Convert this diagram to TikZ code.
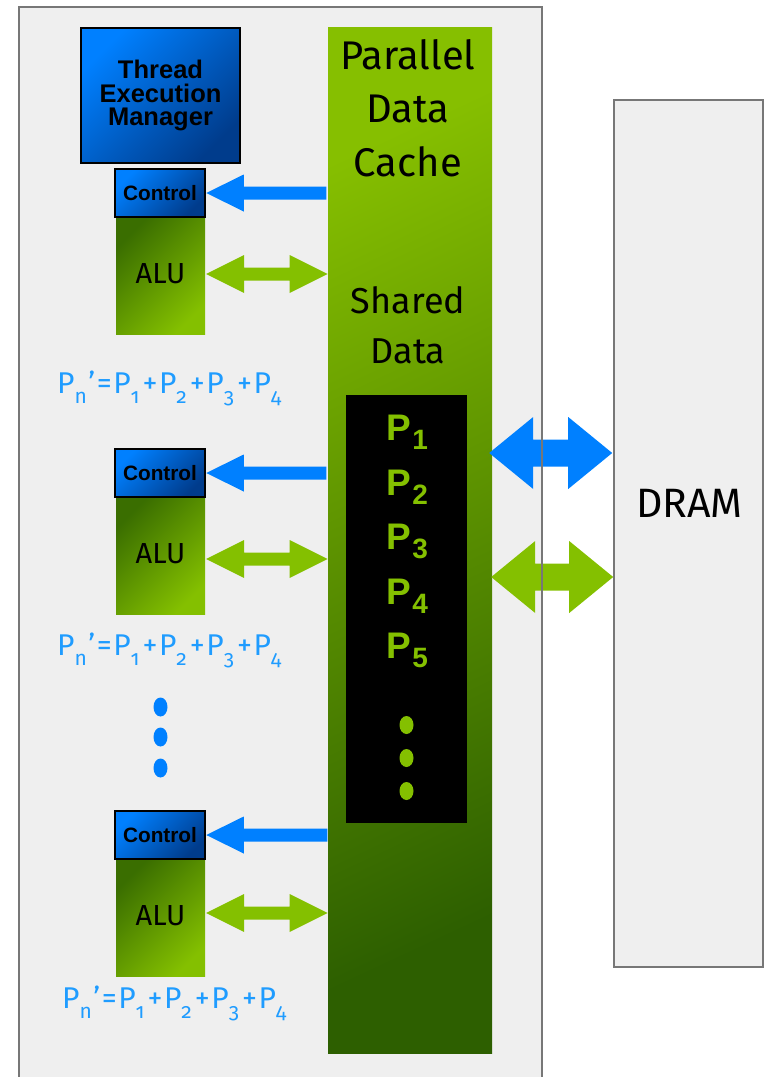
\documentclass[tikz,border=0pt]{standalone}
\usepackage{fontspec}
\setmainfont{Fira Sans}
\newfontfamily\boldsans{Liberation Sans}
\newfontfamily\sumfont{Fira Sans}[Numbers=OldStyle]
\usetikzlibrary{calc}

\definecolor{chipgray}{HTML}{EFEFEF}
\definecolor{edgegray}{HTML}{777777}
\definecolor{nvblue}{HTML}{0080FF}
\definecolor{nvbluedark}{HTML}{003C8C}
\definecolor{nvgreen}{HTML}{84C000}
\definecolor{cachetop}{HTML}{86BF00}
\definecolor{cachebottom}{HTML}{2D5F00}
\definecolor{aludark}{HTML}{3A6E00}
\definecolor{alulight}{HTML}{84C000}
\definecolor{sumblue}{HTML}{1F9CFF}

% left-pointing block arrow: style, tip, head length, head half height, shaft half height, total length
\newcommand{\singlehead}[6]{%
  \fill[#1] #2 -- ++(#3,-#4) -- ++(0,#4-#5) -- ++(#6-#3,0) -- ++(0,2*#5)
    -- ++(#3-#6,0) -- ++(0,#4-#5) -- cycle;}
% two-way block arrow, same arguments, starting at the left tip
\newcommand{\doublehead}[6]{%
  \fill[#1] #2 -- ++(#3,-#4) -- ++(0,#4-#5) -- ++(#6-2*#3,0) -- ++(0,#5-#4)
    -- ++(#3,#4) -- ++(-#3,#4) -- ++(0,#5-#4) -- ++(2*#3-#6,0) -- ++(0,#4-#5) -- cycle;}
% lowered index in the partial-sum formulas
\newcommand{\lowidx}[1]{\raisebox{-10pt}{\fontsize{21}{21}\selectfont #1}\kern1.5pt}
\newcommand{\sumop}[1]{\kern1.5pt#1\kern1.5pt}
\newcommand{\partialsum}{P\lowidx{n}’\sumop{=}P\lowidx{1}\sumop{+}P\lowidx{2}\sumop{+}P\lowidx{3}\sumop{+}P\lowidx{4}}
% data element label inside the shared data block
\newcommand{\pidx}[1]{{\fontsize{37}{37}\selectfont P}\kern1.5pt\raisebox{-9pt}{\fontsize{28}{28}\selectfont #1}}

\tikzset{
  unitbox/.style={draw=black, line width=2.5pt, top color=nvblue, bottom color=nvbluedark,
    shading angle=45, inner sep=0pt, align=center},
  ctlbox/.style={unitbox, minimum width=90pt, minimum height=48pt,
    font=\boldsans\bfseries\fontsize{20.8}{20.8}\selectfont},
  alubox/.style={top color=aludark, bottom color=alulight, shading angle=45,
    minimum width=89pt, minimum height=117pt, inner sep=0pt, text depth=5pt,
    font=\fontsize{29}{29}\selectfont},
  cachetext/.style={anchor=base, inner sep=0pt, font=\fontsize{40}{40}\selectfont},
  sharedtext/.style={anchor=base, inner sep=0pt, font=\fontsize{36}{36}\selectfont},
  sumtext/.style={anchor=base west, inner sep=0pt, text=sumblue,
    font=\sumfont\fontsize{30}{30}\selectfont},
  ptext/.style={anchor=base, inner sep=0pt, text=nvgreen, font=\boldsans\bfseries},
  bluearrow/.style={fill=nvblue},
  greenarrow/.style={fill=nvgreen},
  panel/.style={fill=chipgray},
  panelrim/.style={draw=edgegray, line width=2.5pt},
}

\begin{document}
\begin{tikzpicture}[x=1pt, y=-1pt]
\useasboundingbox (0,0) rectangle (767,1077);

% chip outline and DRAM module backgrounds
\node[panel, minimum width=523pt, minimum height=1085pt, inner sep=0pt] (chip) at (280.5,549.5) {};
\node[panel, minimum width=149pt, minimum height=867pt, inner sep=0pt] (dram) at (688.5,533.5) {};
\node[cachetext, font=\fontsize{41}{41}\selectfont] (dramlabel) at (689.5,517) {DRAM};

% parallel data cache with the shared data block
\node[top color=cachetop, bottom color=cachebottom, shading angle=25,
      minimum width=164pt, minimum height=1026pt, inner sep=0pt] (cache) at (410,540) {};
\node[cachetext] (title1) at (408,69) {Parallel};
\node[cachetext] (title2) at (408,122) {Data};
\node[cachetext] (title3) at (408,176) {Cache};
\node[sharedtext] (shared1) at (408,313) {Shared};
\node[sharedtext] (shared2) at (408,363) {Data};
\node[fill=black, minimum width=121pt, minimum height=428pt, inner sep=0pt] (pbox) at (406.5,609) {};
\node[ptext] (p1) at (407,440) {\pidx{1}};
\node[ptext] (p2) at (407,495) {\pidx{2}};
\node[ptext] (p3) at (407,549) {\pidx{3}};
\node[ptext] (p4) at (407,604) {\pidx{4}};
\node[ptext] (p5) at (407,658) {\pidx{5}};
\foreach \yy in {725,758,791}
  \fill[nvgreen] (406.5,\yy) ellipse [x radius=7, y radius=9];

% thread execution manager
\node[unitbox, minimum width=159pt, minimum height=135pt,
      font=\boldsans\bfseries\fontsize{25.5}{23.5}\selectfont] (tem) at (160.5,95.5)
      {Thread\\Execution\\Manager};

% thread processors: ALU with its control unit on top
\node[alubox] (alu1) at (160.5,276) {ALU};
\node[alubox] (alu2) at (160.5,556) {ALU};
\node[alubox] (alu3) at (160.5,918) {ALU};
\node[ctlbox] (ctl1) at (160,193) {Control};
\node[ctlbox] (ctl2) at (160,473) {Control};
\node[ctlbox] (ctl3) at (160,835) {Control};

% partial sums
\node[sumtext] (sum1) at (57,393) {\partialsum};
\node[sumtext] (sum2) at (57,655) {\partialsum};
\node[sumtext] (sum3) at (62,1008) {\partialsum};
\foreach \yy in {707,737,768}
  \fill[nvblue] (160.5,\yy) ellipse [x radius=7, y radius=9.5];

% cache -> control
\singlehead{bluearrow}{(ctl1.east)}{37.5}{18.5}{6.5}{120}
\singlehead{bluearrow}{(ctl2.east)}{37.5}{18.5}{6.5}{120}
\singlehead{bluearrow}{(ctl3.east)}{37.5}{18.5}{6.5}{121}
% ALU <-> cache
\doublehead{greenarrow}{([xshift=1pt,yshift=2pt]alu1.east)}{38}{19}{6.5}{121.5}
\doublehead{greenarrow}{([xshift=1pt,yshift=-3pt]alu2.east)}{38}{19}{6.5}{121.5}
\doublehead{greenarrow}{([xshift=1pt,yshift=5pt]alu3.east)}{38}{19}{6.5}{121.5}
% cache <-> DRAM
\doublehead{bluearrow}{([xshift=-3pt,yshift=87pt]cache.east)}{44}{36}{13.5}{123}
\doublehead{greenarrow}{([xshift=-1pt,yshift=-37pt]cache.east)}{44}{36}{13.5}{122}

% frames
\draw[panelrim] (chip.south west) rectangle (chip.north east);
\draw[panelrim] (dram.south west) rectangle (dram.north east);
\end{tikzpicture}
\end{document}
